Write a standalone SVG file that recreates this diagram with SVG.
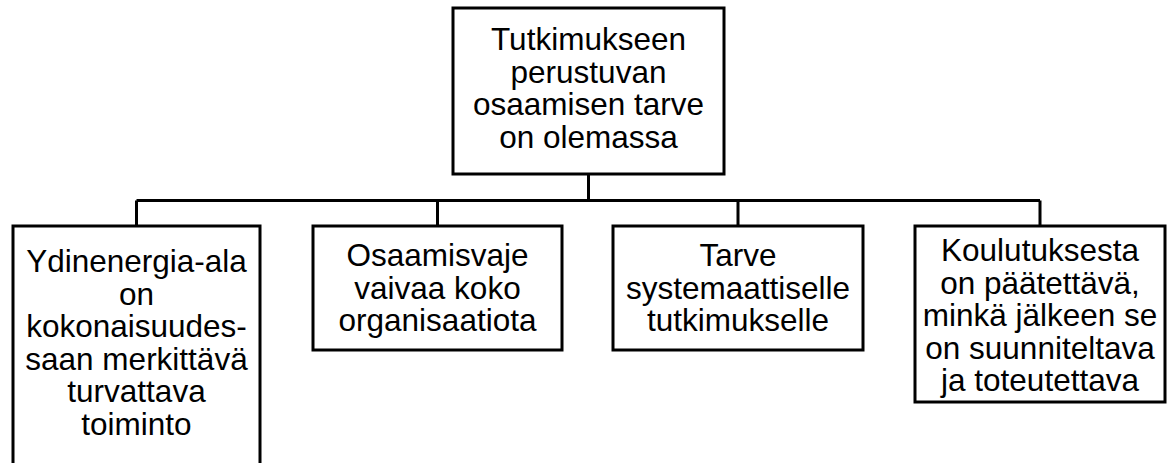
<svg xmlns="http://www.w3.org/2000/svg" width="1170" height="463" viewBox="0 0 1170 463">
<style>
.box{fill:#fff;stroke:#000;stroke-width:3}
.con{fill:none;stroke:#000;stroke-width:3}
text{font-family:"Liberation Sans",Arial,sans-serif;font-size:31.5px;fill:#000;text-anchor:middle}
</style>
<rect width="1170" height="463" fill="#fff"/>
<g id="connectors">
<path class="con" d="M588.5 174V200.5M136.5 200.5H1040M136.5 200.5V226M437.5 200.5V226M738 200.5V226M1040 200.5V226"/>
</g>
<g id="root">
<rect class="box" x="453" y="8" width="271" height="166"/>
<text x="588.5" y="50">Tutkimukseen</text>
<text x="588.5" y="82.5">perustuvan</text>
<text x="588.5" y="115">osaamisen tarve</text>
<text x="588.5" y="147.5">on olemassa</text>
</g>
<g id="n1">
<rect class="box" x="13" y="226" width="247" height="260"/>
<text x="136.5" y="272">Ydinenergia-ala</text>
<text x="136.5" y="304.5">on</text>
<text x="136.5" y="337">kokonaisuudes-</text>
<text x="136.5" y="369.5">saan merkittävä</text>
<text x="136.5" y="402">turvattava</text>
<text x="136.5" y="434.5">toiminto</text>
</g>
<g id="n2">
<rect class="box" x="313" y="226" width="249" height="124"/>
<text x="437.5" y="266">Osaamisvaje</text>
<text x="437.5" y="298.5">vaivaa koko</text>
<text x="437.5" y="331">organisaatiota</text>
</g>
<g id="n3">
<rect class="box" x="613" y="226" width="250" height="124"/>
<text x="738" y="266">Tarve</text>
<text x="738" y="298.5">systemaattiselle</text>
<text x="738" y="331">tutkimukselle</text>
</g>
<g id="n4">
<rect class="box" x="915" y="226" width="250" height="176"/>
<text x="1040" y="261">Koulutuksesta</text>
<text x="1040" y="293.5">on päätettävä,</text>
<text x="1040" y="326">minkä jälkeen se</text>
<text x="1040" y="358.5">on suunniteltava</text>
<text x="1040" y="391">ja toteutettava</text>
</g>
</svg>
